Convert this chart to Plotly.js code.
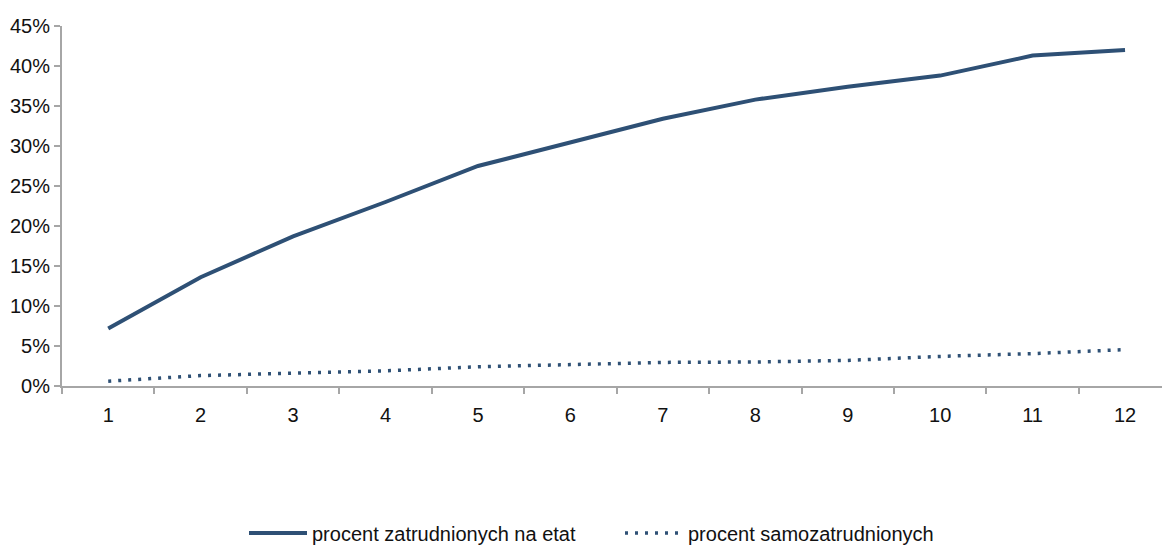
<!DOCTYPE html>
<html>
<head>
<meta charset="utf-8">
<script src="https://cdn.plot.ly/plotly-3.0.1.min.js"></script>
<style>html,body{margin:0;padding:0;background:#fff;overflow:hidden}#chart{width:1162px;height:547px}</style>
</head>
<body>
<div id="chart"></div>
<script>
const categories = ["1","2","3","4","5","6","7","8","9","10","11","12"];
const etat = [7.2, 13.6, 18.7, 23.0, 27.5, 30.5, 33.4, 35.8, 37.4, 38.8, 41.3, 42.0];
const samo = [0.6, 1.3, 1.6, 1.9, 2.4, 2.7, 2.95, 3.0, 3.2, 3.7, 4.05, 4.55];
const seriesNames = ["procent zatrudnionych na etat", "procent samozatrudnionych"];
const yTicks = [0,5,10,15,20,25,30,35,40,45];

const color = "#2E5075";
const font = "'Liberation Sans', Arial, sans-serif";

const traces = [
  {x: categories, y: etat, name: seriesNames[0], type: "scatter", mode: "lines",
   line: {color: color, width: 4}},
  {x: categories, y: samo, name: seriesNames[1], type: "scatter", mode: "lines",
   line: {color: color, width: 3.5, dash: "3px,7px"}}
];

const layout = {
  width: 1162, height: 547,
  margin: {l: 62, r: 0, t: 26, b: 161},
  paper_bgcolor: "#fff", plot_bgcolor: "#fff",
  font: {family: font, size: 20, color: "#111"},
  showlegend: true,
  legend: {orientation: "h", xref: "container", yref: "container",
           x: 244/1162, xanchor: "left", y: 14/547, yanchor: "middle",
           entrywidth: 303, entrywidthmode: "pixels",
           font: {family: font, size: 20, color: "#111"}, itemwidth: 58},
  xaxis: {type: "category", range: [-0.5, 11.4], showgrid: false, zeroline: false,
          showline: true, linecolor: "#a6a6a6", linewidth: 2,
          ticks: "outside", tickson: "boundaries", ticklen: 6, tickcolor: "#a6a6a6", tickwidth: 2,
          ticklabelstandoff: 10,
          tickfont: {family: font, size: 20, color: "#111"}},
  yaxis: {range: [0, 45], tickvals: yTicks, ticktext: yTicks.map(v => v + "%"),
          showgrid: false, zeroline: false, showline: true, linecolor: "#a6a6a6", linewidth: 2,
          ticks: "outside", ticklen: 6, tickcolor: "#a6a6a6", tickwidth: 2,
          tickfont: {family: font, size: 20, color: "#111"}}
};

Plotly.newPlot("chart", traces, layout, {staticPlot: true, displayModeBar: false});
</script>
</body>
</html>
